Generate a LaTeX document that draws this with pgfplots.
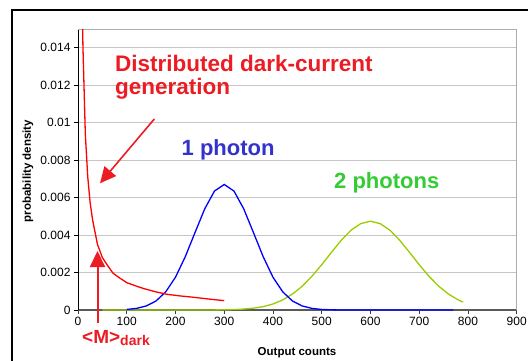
\documentclass[border=0pt]{standalone}
\usepackage{fontspec}
\setmainfont{Liberation Sans}
\usepackage{pgfplots}
\pgfplotsset{compat=1.18}
\usetikzlibrary{arrows.meta}
\definecolor{cred}{RGB}{255,0,0}
\definecolor{tred}{RGB}{235,28,36}
\definecolor{cblue}{RGB}{0,0,255}
\definecolor{tblue}{RGB}{51,51,204}
\definecolor{cgreen}{RGB}{153,204,0}
\definecolor{tgreen}{RGB}{51,204,51}
\begin{document}
\begin{tikzpicture}[x=1pt,y=1pt]
\path[use as bounding box] (0,0) rectangle (528,360);
\draw[line width=1.2pt] (12,-10) -- (12,350) -- (540,350);
\begin{axis}[
  at={(78pt,50pt)}, anchor=south west,
  scale only axis, width=438.7pt, height=281pt,
  xmin=0, xmax=900, ymin=0, ymax=0.015,
  axis x line*=bottom, axis y line*=left,
  x axis line style={-, draw={rgb,255:red,90;green,90;blue,90}, line width=1.8pt},
  y axis line style={-, draw=black, line width=1pt},
  xtick={0,100,200,300,400,500,600,700,800,900},
  ytick={0,0.002,0.004,0.006,0.008,0.01,0.012,0.014},
  yticklabels={0,0.002,0.004,0.006,0.008,0.01,0.012,0.014},
  scaled y ticks=false,
  /pgf/number format/assume math mode=true,
  tick label style={font=\fontsize{12}{14}\selectfont},
  tick align=outside, major tick length=4pt,
  xtick style={draw={rgb,255:red,60;green,60;blue,60}, line width=0.8pt},
  ytick style={draw=black, line width=0.8pt},
  ymajorgrids, grid style={draw=gray!45, line width=0.8pt},
  clip mode=individual,
]
\draw[gray!65, line width=0.9pt] (rel axis cs:0,1) -- (rel axis cs:1,1) -- (rel axis cs:1,0);
\addplot[cgreen, line width=1.3pt, no marks] coordinates {
 (50,0) (280,0.000005) (300,0.000011) (320,0.000025) (340,0.000051) (360,0.000099)
 (380,0.00018) (400,0.00032) (420,0.00054) (440,0.00085) (460,0.00127)
 (480,0.00180) (500,0.00242) (520,0.00308) (540,0.00372) (560,0.00426)
 (580,0.00461) (600,0.00474) (620,0.00461) (640,0.00426) (660,0.00372)
 (680,0.00308) (700,0.00242) (720,0.00180) (740,0.00127) (760,0.00085)
 (780,0.00054) (790,0.00042)
};
\addplot[cblue, line width=1.3pt, no marks] coordinates {
 (100,0.00003) (120,0.000086) (140,0.000215) (160,0.00048) (180,0.00097)
 (200,0.00175) (220,0.00284) (240,0.00413) (260,0.00540) (280,0.00635)
 (300,0.0067) (320,0.00635) (340,0.00540) (360,0.00413) (380,0.00284)
 (400,0.00175) (420,0.00097) (440,0.00048) (460,0.000215) (480,0.000086)
 (500,0.00003) (520,0.00001) (540,0) (770,0)
};
\addplot[cred, line width=1.3pt, no marks] coordinates {
 (5,0.028) (10,0.0142) (15,0.0094) (20,0.0071) (25,0.0057) (30,0.0048)
 (40,0.0035) (50,0.0028) (60,0.0024) (72,0.00196) (86,0.0017) (100,0.00146)
 (117,0.0013) (134,0.00115) (158,0.00098) (182,0.00084) (210,0.00075)
 (237,0.00068) (270,0.00058) (300,0.0005)
};
\end{axis}
\node[anchor=base west, tred, font=\bfseries\fontsize{22.5}{23}\selectfont, inner sep=0] at (115,289) {Distributed dark-current};
\node[anchor=base west, tred, font=\bfseries\fontsize{22.5}{23}\selectfont, inner sep=0] at (115,266) {generation};
\node[anchor=base west, tblue, font=\bfseries\fontsize{22}{23}\selectfont, inner sep=0] at (181.5,205) {1 photon};
\node[anchor=base west, tgreen, font=\bfseries\fontsize{22}{23}\selectfont, inner sep=0] at (334,171.7) {2 photons};
\node[anchor=base west, tred, font=\bfseries, inner sep=0] at (82,17) {\fontsize{19}{20}\selectfont <M>\raisebox{-2pt}{\fontsize{14}{15}\selectfont dark}};
\draw[tred, line width=1.6pt, -{Triangle[length=16pt,width=15pt]}] (154.3,241) -- (100,176.7);
\draw[draw=tred, fill=tred, line width=2pt, -{Triangle[length=16pt,width=15pt]}] (97.5,37) -- (97.5,109);
\node[rotate=90, anchor=center, font=\bfseries\fontsize{11.5}{13}\selectfont, inner sep=0] at (28,189) {probability density};
\node[anchor=base, font=\bfseries\fontsize{11.5}{13}\selectfont, inner sep=0] at (297,5) {Output counts};
\end{tikzpicture}
\end{document}
